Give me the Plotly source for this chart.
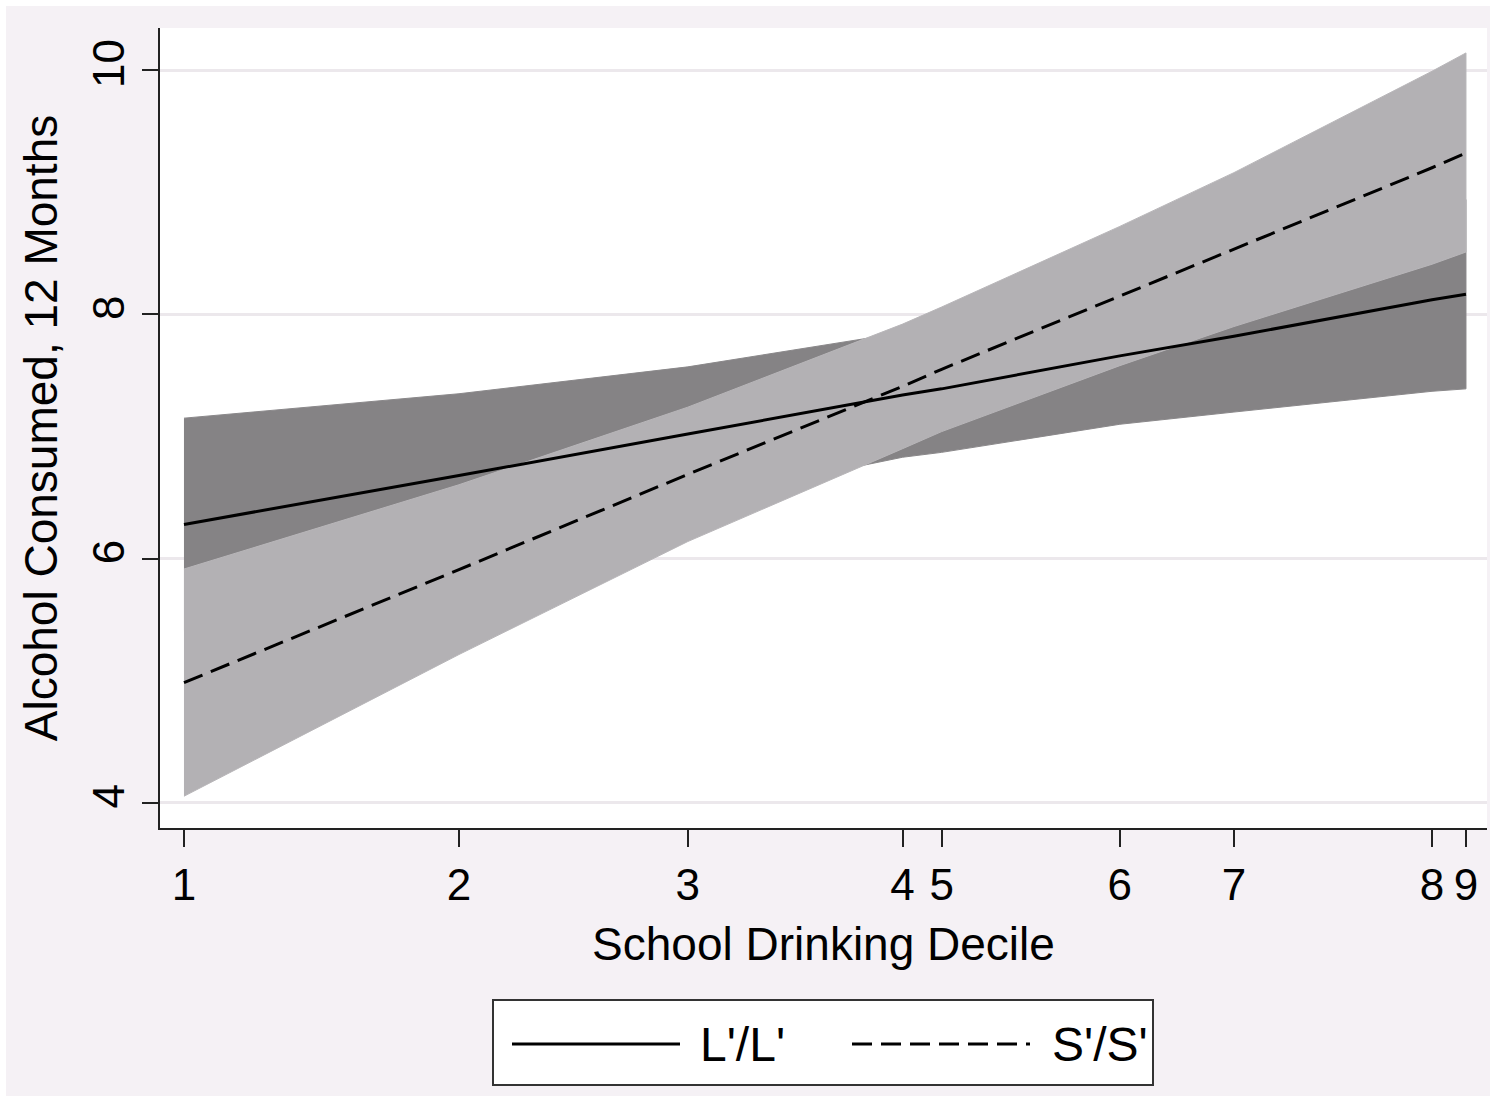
import plotly.graph_objects as go

# School drinking level at each decile (position on the underlying linear scale)
decile_labels = ["1", "2", "3", "4", "5", "6", "7", "8", "9"]
decile_x = [0.000, 0.2145, 0.393, 0.5605, 0.591, 0.730, 0.819, 0.9735, 1.000]

# L'/L' fitted values and 95% CI
ll_fit = [6.28, 6.68, 7.02, 7.34, 7.39, 7.66, 7.82, 8.12, 8.165]
ll_upper = [7.15, 7.35, 7.57, 7.85, 7.91, 8.22, 8.44, 8.87, 8.94]
ll_lower = [5.41, 6.01, 6.47, 6.83, 6.87, 7.10, 7.20, 7.37, 7.39]

# S'/S' fitted values and 95% CI
ss_fit = [4.985, 5.91, 6.69, 7.41, 7.55, 8.15, 8.53, 9.20, 9.32]
ss_upper = [5.915, 6.605, 7.24, 7.92, 8.06, 8.72, 9.16, 9.99, 10.14]
ss_lower = [4.055, 5.215, 6.14, 6.90, 7.04, 7.58, 7.90, 8.41, 8.51]

y_ticks = [4, 6, 8, 10]

FONT = "Liberation Sans, Arial, Helvetica, sans-serif"
DARK = "#858385"
LIGHT = "#b3b1b4"
BG = "#f5f1f5"

fig = go.Figure()

# CI bands (dark first, light over it)
fig.add_trace(go.Scatter(
    x=decile_x + decile_x[::-1], y=ll_upper + ll_lower[::-1],
    fill="toself", fillcolor=DARK, line=dict(color="#8a888a", width=1),
    mode="lines", hoverinfo="skip", showlegend=False))
fig.add_trace(go.Scatter(
    x=decile_x + decile_x[::-1], y=ss_upper + ss_lower[::-1],
    fill="toself", fillcolor=LIGHT, line=dict(color="#b8b6b9", width=1),
    mode="lines", hoverinfo="skip", showlegend=False))

# Fitted lines
fig.add_trace(go.Scatter(x=decile_x, y=ll_fit, mode="lines", name="L'/L'",
                         line=dict(color="black", width=3), showlegend=False))
fig.add_trace(go.Scatter(x=decile_x, y=ss_fit, mode="lines", name="S'/S'",
                         line=dict(color="black", width=3, dash="20px,9px"),
                         showlegend=False))

W, H = 1496, 1102
L, R, T, B = 160, 9, 28, 274
pw, ph = W - L - R, H - T - B


def px(xp):
    return (xp - L) / pw


def py(yp):
    return (H - B - yp) / ph


shapes = [
    # thin white frame around the lavender graph region
    dict(type="rect", xref="paper", yref="paper",
         x0=px(0), x1=px(W), y0=py(H), y1=py(0),
         fillcolor="rgba(0,0,0,0)", line=dict(color="white", width=12)),
    # legend box
    dict(type="rect", xref="paper", yref="paper",
         x0=px(493), x1=px(1153), y0=py(1085), y1=py(1000),
         fillcolor="white", line=dict(color="#333333", width=2)),
    # legend samples
    dict(type="line", xref="paper", yref="paper",
         x0=px(512), x1=px(680), y0=py(1044), y1=py(1044),
         line=dict(color="black", width=3)),
    dict(type="line", xref="paper", yref="paper",
         x0=px(852), x1=px(1030), y0=py(1044), y1=py(1044),
         line=dict(color="black", width=3, dash="20px,9px")),
]

annotations = [
    dict(xref="paper", yref="paper", x=px(698), y=py(1044), text="L'/L'",
         showarrow=False, xanchor="left", yanchor="middle",
         font=dict(family=FONT, size=48, color="black")),
    dict(xref="paper", yref="paper", x=px(1050), y=py(1044), text="S'/S'",
         showarrow=False, xanchor="left", yanchor="middle",
         font=dict(family=FONT, size=48, color="black")),
]

fig.update_layout(
    width=W, height=H,
    margin=dict(l=L, r=R, t=T, b=B),
    paper_bgcolor=BG,
    plot_bgcolor="white",
    font=dict(family=FONT, size=44, color="black"),
    shapes=shapes,
    annotations=annotations,
    showlegend=False,
    xaxis=dict(
        range=[-0.0187, 1.0164],
        tickmode="array", tickvals=decile_x, ticktext=decile_labels,
        showgrid=False, zeroline=False,
        showline=True, linecolor="#222222", linewidth=2,
        ticks="outside", ticklen=17, tickwidth=2, tickcolor="#222222",
        tickfont=dict(family=FONT, size=44),
        title=dict(text="School Drinking Decile", standoff=20,
                   font=dict(family=FONT, size=46)),
    ),
    yaxis=dict(
        range=[3.795, 10.344],
        tickmode="array", tickvals=y_ticks,
        showgrid=True, gridcolor="#ece8ec", gridwidth=2.5,
        zeroline=False,
        showline=True, linecolor="#222222", linewidth=2,
        ticks="outside", ticklen=16, tickwidth=2, tickcolor="#222222",
        tickangle=-90,
        tickfont=dict(family=FONT, size=44),
        title=dict(text="Alcohol Consumed, 12 Months", standoff=12,
                   font=dict(family=FONT, size=46)),
    ),
)

fig.write_html("out.html")
